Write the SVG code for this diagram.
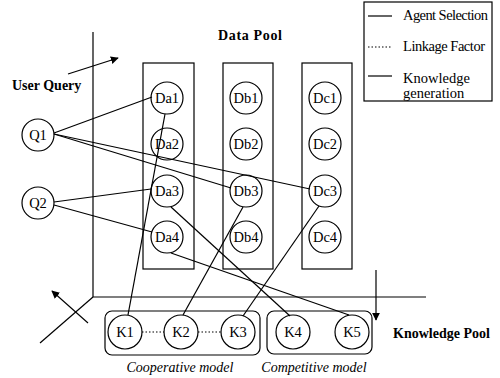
<svg xmlns="http://www.w3.org/2000/svg" width="500" height="378" viewBox="0 0 500 378">
  <style>
    .box { fill: none; stroke: #000; stroke-width: 1.2; }
    .node circle { fill: none; stroke: #000; stroke-width: 1.2; }
    .node text { font-family: "Liberation Serif", "Times New Roman", serif; font-size: 14.5px; text-anchor: middle; fill: #000; }
    .edge { fill: none; stroke: #000; stroke-width: 1.2; }
    .dot { fill: none; stroke: #000; stroke-width: 1.2; stroke-dasharray: 1.5 2; }
    .axis { fill: none; stroke: #000; stroke-width: 1.2; }
    .title { font-family: "Liberation Serif", "Times New Roman", serif; font-size: 14px; font-weight: bold; fill: #000; }
    .cap { font-family: "Liberation Serif", "Times New Roman", serif; font-size: 14px; font-style: italic; fill: #000; text-anchor: middle; }
    .leg { font-family: "Liberation Serif", "Times New Roman", serif; font-size: 14.5px; fill: #000; }
  </style>
  <defs>
    <marker id="head" viewBox="0 0 10 10" refX="9" refY="5" markerWidth="8" markerHeight="8" markerUnits="userSpaceOnUse" orient="auto">
      <path d="M0,0 L10,5 L0,10 z" fill="#000"/>
    </marker>
  </defs>

  <rect width="500" height="378" fill="#fff"/>

  <!-- axes and direction arrows -->
  <g id="axes">
    <polyline class="axis" points="93,32 93,297 426,297"/>
    <line class="axis" x1="93" y1="297" x2="40" y2="343"/>
    <line class="axis" x1="88" y1="323" x2="52" y2="291" marker-end="url(#head)"/>
    <line class="axis" x1="68" y1="74" x2="118" y2="58" marker-end="url(#head)"/>
    <line class="axis" x1="376" y1="270" x2="376" y2="320" marker-end="url(#head)"/>
  </g>

  <!-- labels -->
  <text class="title" x="12" y="90">User Query</text>
  <text class="title" x="218" y="40" textLength="64">Data Pool</text>
  <text class="title" x="393" y="338">Knowledge Pool</text>
  <text class="cap" x="180" y="372">Cooperative model</text>
  <text class="cap" x="314" y="372">Competitive model</text>

  <!-- legend -->
  <g id="legend">
    <rect class="box" x="364" y="2" width="128" height="99"/>
    <line class="edge" x1="368" y1="16" x2="392" y2="16"/>
    <text class="leg" x="403" y="20" textLength="85">Agent Selection</text>
    <line class="dot" x1="368" y1="47" x2="392" y2="47"/>
    <text class="leg" x="403" y="51" textLength="82">Linkage Factor</text>
    <line class="edge" x1="368" y1="76" x2="392" y2="76" stroke-width="1.5"/>
    <text class="leg" x="403" y="83">Knowledge</text>
    <text class="leg" x="403" y="98">generation</text>
  </g>

  <!-- pools -->
  <g id="pools">
    <rect class="box" x="143" y="63" width="51" height="206"/>
    <rect class="box" x="223" y="63" width="50" height="206"/>
    <rect class="box" x="302" y="63" width="50" height="206"/>
    <rect class="box" x="105" y="311" width="155" height="44" rx="7"/>
    <rect class="box" x="267" y="311" width="105" height="43" rx="7"/>
  </g>

  <!-- connectors -->
  <g id="connectors">
    <line class="edge" x1="54" y1="133" x2="152" y2="97"/>
    <line class="edge" x1="54" y1="134" x2="231" y2="188"/>
    <line class="edge" x1="54" y1="134" x2="310" y2="189"/>
    <line class="edge" x1="54" y1="202" x2="151" y2="189"/>
    <line class="edge" x1="54" y1="205" x2="152" y2="232"/>
    <line class="edge" x1="165" y1="114" x2="128" y2="315"/>
    <line class="edge" x1="171" y1="207" x2="290" y2="316"/>
    <line class="edge" x1="243" y1="207" x2="183" y2="315"/>
    <line class="edge" x1="319" y1="206" x2="243" y2="316"/>
    <line class="edge" x1="171" y1="253" x2="349" y2="315"/>
    <line class="dot" x1="142" y1="332" x2="164" y2="332"/>
    <line class="dot" x1="198" y1="332" x2="221" y2="332"/>
  </g>

  <!-- query nodes -->
  <g id="Q1" class="node"><circle cx="38" cy="135" r="16"/><text x="38" y="140">Q1</text></g>
  <g id="Q2" class="node"><circle cx="38" cy="203" r="16"/><text x="38" y="208">Q2</text></g>

  <!-- data nodes -->
  <g id="Da1" class="node"><circle cx="167" cy="98" r="16"/><text x="167" y="103">Da1</text></g>
  <g id="Da2" class="node"><circle cx="167" cy="144" r="16"/><text x="167" y="149">Da2</text></g>
  <g id="Da3" class="node"><circle cx="167" cy="191" r="16"/><text x="167" y="196">Da3</text></g>
  <g id="Da4" class="node"><circle cx="167" cy="237" r="16"/><text x="167" y="242">Da4</text></g>
  <g id="Db1" class="node"><circle cx="246" cy="98" r="16"/><text x="246" y="103">Db1</text></g>
  <g id="Db2" class="node"><circle cx="246" cy="144" r="16"/><text x="246" y="149">Db2</text></g>
  <g id="Db3" class="node"><circle cx="246" cy="191" r="16"/><text x="246" y="196">Db3</text></g>
  <g id="Db4" class="node"><circle cx="246" cy="237" r="16"/><text x="246" y="242">Db4</text></g>
  <g id="Dc1" class="node"><circle cx="325" cy="98" r="16"/><text x="325" y="103">Dc1</text></g>
  <g id="Dc2" class="node"><circle cx="325" cy="144" r="16"/><text x="325" y="149">Dc2</text></g>
  <g id="Dc3" class="node"><circle cx="325" cy="191" r="16"/><text x="325" y="196">Dc3</text></g>
  <g id="Dc4" class="node"><circle cx="325" cy="237" r="16"/><text x="325" y="242">Dc4</text></g>

  <!-- knowledge nodes -->
  <g id="K1" class="node"><circle cx="125" cy="332" r="17"/><text x="125" y="337">K1</text></g>
  <g id="K2" class="node"><circle cx="181" cy="332" r="17"/><text x="181" y="337">K2</text></g>
  <g id="K3" class="node"><circle cx="238" cy="332" r="17"/><text x="238" y="337">K3</text></g>
  <g id="K4" class="node"><circle cx="293" cy="332" r="17"/><text x="293" y="337">K4</text></g>
  <g id="K5" class="node"><circle cx="352" cy="332" r="17"/><text x="352" y="337">K5</text></g>
</svg>
